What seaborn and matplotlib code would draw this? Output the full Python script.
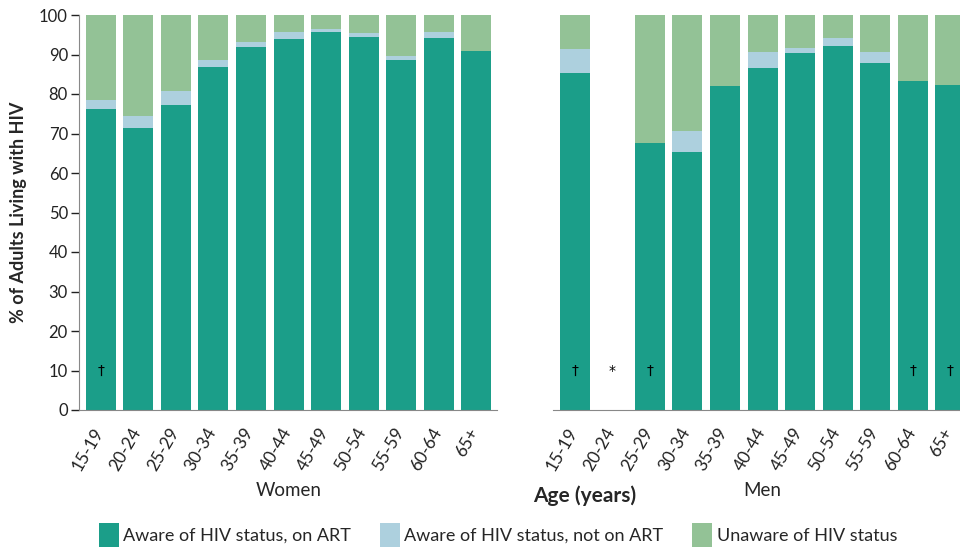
import numpy as np
import pandas as pd
import matplotlib
matplotlib.use("Agg")
import matplotlib.pyplot as plt
import matplotlib.transforms as mtransforms
from matplotlib.patches import Patch
import seaborn as sns

# data (% of adults living with HIV)
ages = ['15-19', '20-24', '25-29', '30-34', '35-39', '40-44',
        '45-49', '50-54', '55-59', '60-64', '65+']

women_art = [76.2, 71.3, 77.2, 86.8, 92.0, 93.9, 95.6, 94.5, 88.6, 94.3, 90.9]
women_aware = [2.3, 3.1, 3.6, 1.8, 1.2, 1.8, 0.9, 0.9, 1.0, 1.3, 0.0]
women_unaware = [21.5, 25.6, 19.2, 11.4, 6.8, 4.3, 3.5, 4.6, 10.4, 4.4, 9.1]

men_art = [85.2, np.nan, 67.6, 65.3, 82.0, 86.6, 90.5, 92.1, 87.8, 83.4, 82.2]
men_aware = [6.2, np.nan, 0.0, 5.4, 0.0, 4.1, 1.2, 2.2, 2.8, 0.0, 0.0]
men_unaware = [8.6, np.nan, 32.4, 29.3, 18.0, 9.3, 8.3, 5.7, 9.4, 16.6, 17.8]

women_notes = ['†', '', '', '', '', '', '', '', '', '', '']
men_notes = ['†', '*', '†', '', '', '', '', '', '', '†', '†']

status = ['Aware of HIV status, on ART', 'Aware of HIV status, not on ART',
          'Unaware of HIV status']
colors = ['#1b9e89', '#add0de', '#93c296']

sns.set_style("white")
plt.rcParams['font.family'] = ['Lato', 'DejaVu Sans']

fig = plt.figure(figsize=(9.6, 5.49), dpi=100)
ax_w = fig.add_axes([79/960, 1-410/549, 418/960, 395/549])
ax_m = fig.add_axes([553/960, 1-410/549, 418/960, 395/549])

# nudge the rotated tick labels a little left so "65+" stays inside the figure
shift = mtransforms.ScaledTranslation(-8/100, 0, fig.dpi_scale_trans)


def stacked(ax, art, aware, unaware, notes):
    df = pd.DataFrame({'age': ages, 'art': art, 'aware': aware, 'unaware': unaware})
    df['l1'] = df['art']
    df['l2'] = df['art'] + df['aware']
    df['l3'] = df['l2'] + df['unaware']
    # draw from the top layer down so the lower ones cover it
    for col, c in zip(['l3', 'l2', 'l1'], colors[::-1]):
        sns.barplot(data=df.dropna(), x='age', y=col, order=ages, color=c,
                    saturation=1, width=0.8, errorbar=None, ax=ax,
                    linewidth=0)
    for i, n in enumerate(notes):
        if n:
            ax.text(i, 10, n, ha='center', va='center', fontsize=10,
                    color='black', fontfamily='DejaVu Sans')
    ax.set_xlim(-0.58, 10.55)
    ax.set_ylim(0, 100)
    ax.set_xlabel('')
    ax.set_ylabel('')
    ax.set_xticks(range(len(ages)))
    ax.tick_params(axis='x', length=6, width=1, color='#222222', pad=5)
    ax.set_xticklabels(ages, rotation=60, ha='right', rotation_mode='anchor',
                       fontsize=12.5, color='#222222')
    for lab in ax.get_xticklabels():
        lab.set_transform(lab.get_transform() + shift)
    for s in ['top', 'right']:
        ax.spines[s].set_visible(False)
    ax.spines['bottom'].set_color('#888888')


stacked(ax_w, women_art, women_aware, women_unaware, women_notes)
stacked(ax_m, men_art, men_aware, men_unaware, men_notes)

ax_w.set_yticks(range(0, 101, 10))
ax_w.tick_params(axis='y', left=True, length=6, width=1, color='#222222',
                 labelsize=12, labelcolor='#222222', pad=2)
ax_w.spines['left'].set_color('#888888')
ax_m.spines['left'].set_visible(False)
ax_m.set_yticks([])

fig.text(19/960, 1-212/549, '% of Adults Living with HIV', rotation=90,
         ha='center', va='center', fontsize=13, fontweight='bold')
fig.text(289/960, 1-491/549, 'Women', ha='center', va='center', fontsize=13.5)
fig.text(762/960, 1-491/549, 'Men', ha='center', va='center', fontsize=13.5)
fig.text(585/960, 1-496/549, 'Age (years)', ha='center', va='center',
         fontsize=15, fontweight='bold')

handles = [Patch(facecolor=c, edgecolor='none') for c in colors]
fig.legend(handles, status, loc='center', bbox_to_anchor=(498/960, 1-535/549),
           ncol=3, frameon=False, fontsize=13, handlelength=1.1,
           handleheight=1.6, handletextpad=0.25, columnspacing=1.6)

fig.savefig('out.png', dpi=100)
